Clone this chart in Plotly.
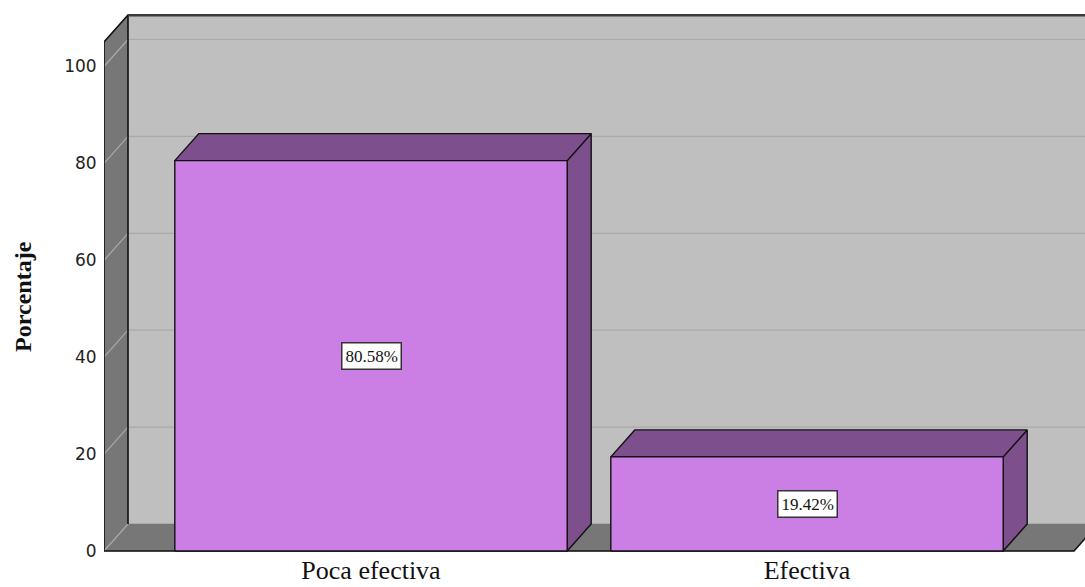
import plotly.graph_objects as go

# ---- data ----
categories = ["Poca efectiva", "Efectiva"]
percentages = [80.58, 19.42]
y_tick_values = [0, 20, 40, 60, 80, 100]
y_axis_title = "Porcentaje"

# ---- geometry / style (not data) ----
BAR_WIDTH = 0.9
DEPTH_X = 0.055      # depth offset in category units
DEPTH_Y = 5.57       # depth offset in value units
WALL_TOP = 105.06
X_LEFT = -0.6124
X_RIGHT = len(categories) - 1 + 0.6124

WALL_BACK = "#BFBFBF"
WALL_SIDE = "#777777"
GRID = "#A9A9A9"
BAR_FRONT = "#CB7FE4"
BAR_DARK = "#7D4F8C"
EDGE = "#111111"

fig = go.Figure()


def poly(xs, ys, fill, line_color=None, width=1.4):
    fig.add_trace(go.Scatter(
        x=list(xs) + [xs[0]], y=list(ys) + [ys[0]],
        mode="lines", fill="toself", fillcolor=fill,
        line=dict(color=line_color if line_color else fill, width=width if line_color else 0.5),
        hoverinfo="skip", showlegend=False))


def seg(xs, ys, color, width):
    fig.add_trace(go.Scatter(x=xs, y=ys, mode="lines",
                             line=dict(color=color, width=width),
                             hoverinfo="skip", showlegend=False))


# back wall
poly([X_LEFT + DEPTH_X, X_RIGHT + DEPTH_X + 1, X_RIGHT + DEPTH_X + 1, X_LEFT + DEPTH_X],
     [DEPTH_Y, DEPTH_Y, WALL_TOP + DEPTH_Y, WALL_TOP + DEPTH_Y], WALL_BACK)
# back wall gridlines
for v in y_tick_values[1:]:
    seg([X_LEFT + DEPTH_X, X_RIGHT + DEPTH_X + 1], [v + DEPTH_Y, v + DEPTH_Y], GRID, 1.2)
# side wall
poly([X_LEFT, X_LEFT + DEPTH_X, X_LEFT + DEPTH_X, X_LEFT],
     [0, DEPTH_Y, WALL_TOP + DEPTH_Y, WALL_TOP], WALL_SIDE)
# floor
poly([X_LEFT, X_RIGHT, X_RIGHT + DEPTH_X, X_LEFT + DEPTH_X],
     [0, 0, DEPTH_Y, DEPTH_Y], WALL_SIDE)
# side wall gridlines
for v in y_tick_values:
    seg([X_LEFT, X_LEFT + DEPTH_X], [v, v + DEPTH_Y], GRID, 1.2)
# outlines
seg([X_LEFT + DEPTH_X, X_LEFT + DEPTH_X], [DEPTH_Y, WALL_TOP + DEPTH_Y], EDGE, 1.6)
seg([X_LEFT, X_LEFT, X_LEFT + DEPTH_X, X_RIGHT + DEPTH_X + 1],
    [0, WALL_TOP, WALL_TOP + DEPTH_Y, WALL_TOP + DEPTH_Y], EDGE, 1.6)
seg([X_LEFT + DEPTH_X, X_RIGHT + DEPTH_X + 1], [WALL_TOP + DEPTH_Y, WALL_TOP + DEPTH_Y], "#3A3A3A", 3)
seg([X_LEFT, X_RIGHT, X_RIGHT + DEPTH_X], [0, 0, DEPTH_Y], EDGE, 1.6)

# bars
half = BAR_WIDTH / 2
for i, v in enumerate(percentages):
    x0, x1 = i - half, i + half
    # side face
    poly([x1, x1 + DEPTH_X, x1 + DEPTH_X, x1], [0, DEPTH_Y, v + DEPTH_Y, v], BAR_DARK, EDGE)
    # top face
    poly([x0, x0 + DEPTH_X, x1 + DEPTH_X, x1], [v, v + DEPTH_Y, v + DEPTH_Y, v], BAR_DARK, EDGE)
    # front face
    poly([x0, x1, x1, x0], [0, 0, v, v], BAR_FRONT, EDGE)
    fig.add_annotation(x=i, y=v / 2, text=f"{v:.2f}%", showarrow=False,
                       font=dict(family="Liberation Serif", size=17, color="#111111"),
                       bgcolor="white", bordercolor="#333333", borderwidth=1.5, borderpad=3)

# y-axis title
fig.add_annotation(xref="paper", yref="paper", x=-0.0826, y=0.476, text=f"<b>{y_axis_title}</b>",
                   textangle=-90, showarrow=False, xanchor="center", yanchor="middle",
                   font=dict(family="Liberation Serif", size=24, color="#111111"))

px_per_unit = 4.845
fig.update_layout(
    width=1085, height=587,
    margin=dict(l=104, r=0, t=14, b=35, autoexpand=False),
    paper_bgcolor="white", plot_bgcolor="white",
    showlegend=False,
    xaxis=dict(range=[X_LEFT, X_LEFT + 981 / 436], showgrid=False, zeroline=False,
               showline=False, tickmode="array", tickvals=list(range(len(categories))),
               ticktext=categories, ticks="", automargin=False,
               tickfont=dict(family="Liberation Serif", size=26, color="#111111")),
    yaxis=dict(range=[-1 / px_per_unit, -1 / px_per_unit + 538 / px_per_unit],
               showgrid=False, zeroline=False, showline=False, automargin=False,
               tickmode="array", tickvals=y_tick_values,
               ticks="outside", ticklen=3, tickcolor="rgba(0,0,0,0)",
               tickfont=dict(family="DejaVu Sans", size=17, color="#222222")),
)

fig.write_html("out.html")
